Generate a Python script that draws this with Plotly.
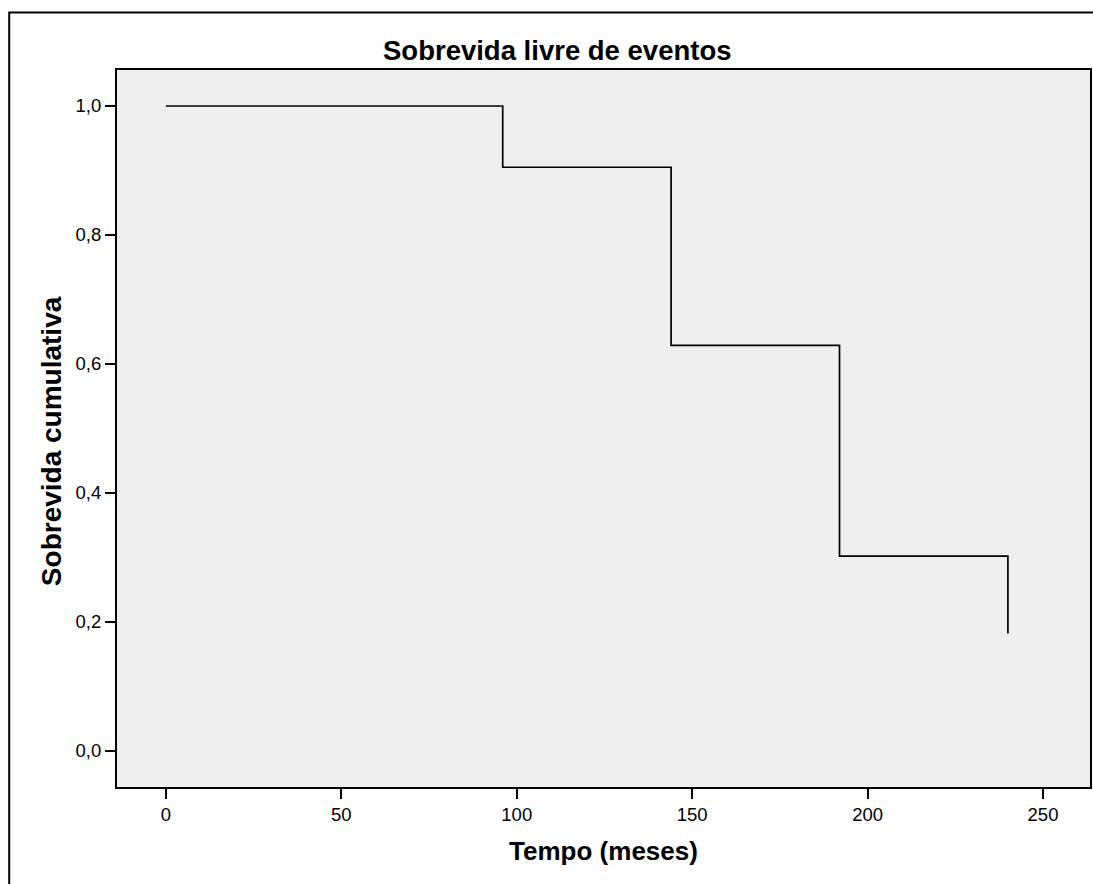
import plotly.graph_objects as go

# Data
tempo_meses = [0, 96, 144, 192, 240]
sobrevida = [1.0, 0.905, 0.629, 0.302, 0.182]
x_ticks = [0, 50, 100, 150, 200, 250]
y_ticks = [0.0, 0.2, 0.4, 0.6, 0.8, 1.0]

FONT = "Liberation Sans, Arial, sans-serif"

fig = go.Figure()
fig.add_trace(go.Scatter(
    x=tempo_meses, y=sobrevida, mode="lines",
    line=dict(shape="hv", color="black", width=1.7),
    showlegend=False, hoverinfo="x+y",
))

W, H = 1093, 884
L, R, T, B = 117, 1, 70, 97

fig.update_layout(
    width=W, height=H,
    margin=dict(l=L, r=R, t=T, b=B, pad=0),
    paper_bgcolor="white",
    plot_bgcolor="#EFEFEF",
    separators=", ",
    font=dict(family=FONT, color="black"),
    showlegend=False,
)

fig.update_xaxes(
    range=[-13.94, 263.4],
    tickvals=x_ticks,
    ticktext=[str(v) for v in x_ticks],
    ticks="outside", ticklen=10, tickwidth=2, tickcolor="black",
    showline=True, linecolor="black", linewidth=2, mirror=True,
    showgrid=False, zeroline=False,
    tickfont=dict(size=18.5, family=FONT, color="black"),
    title=dict(text="<b>Tempo (meses)</b>", font=dict(size=26, family=FONT, color="black"), standoff=18),
)
fig.update_yaxes(
    range=[-0.0558, 1.0558],
    tickvals=y_ticks,
    ticktext=[f"{v:.1f}".replace(".", ",") for v in y_ticks],
    ticks="outside", ticklen=10, tickwidth=2, tickcolor="black",
    showline=True, linecolor="black", linewidth=2, mirror=True,
    showgrid=False, zeroline=False,
    tickfont=dict(size=18.5, family=FONT, color="black"),
)

# Title
fig.add_annotation(
    text="<b>Sobrevida livre de eventos</b>",
    xref="paper", yref="paper",
    x=(558 - L) / (W - L - R), y=(H - B - 51) / (H - T - B),
    xanchor="center", yanchor="middle", showarrow=False,
    font=dict(size=27.5, family=FONT, color="black"),
)
# Y axis title
fig.add_annotation(
    text="<b>Sobrevida cumulativa</b>",
    xref="paper", yref="paper",
    x=(51 - L) / (W - L - R), y=(H - B - 441) / (H - T - B),
    xanchor="center", yanchor="middle", showarrow=False, textangle=-90,
    font=dict(size=28, family=FONT, color="black"),
)

# Outer frame
fig.add_shape(
    type="rect", xref="paper", yref="paper",
    x0=(9 - L) / (W - L - R), x1=1.05,
    y0=-0.3, y1=(H - B - 12.5) / (H - T - B),
    line=dict(color="black", width=2), fillcolor="rgba(0,0,0,0)", layer="below",
)

fig.write_html(
    "out.html",
    config={"displayModeBar": False},
    post_script="document.body.style.margin='0';",
)
